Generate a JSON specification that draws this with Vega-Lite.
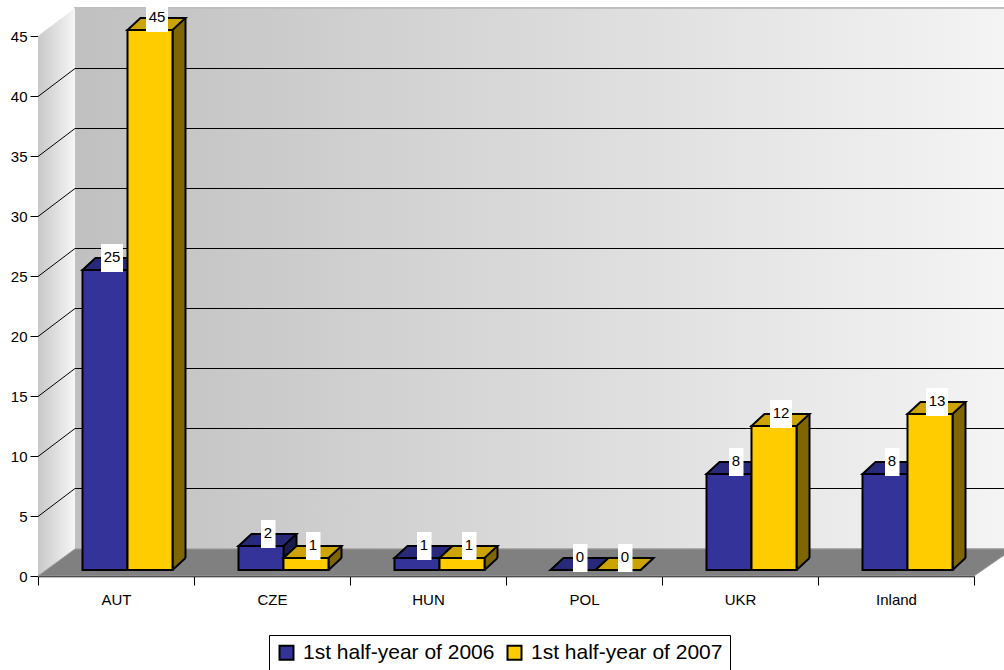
{
  "$schema": "https://vega.github.io/schema/vega-lite/v6.json",
  "width": 936,
  "height": 540,
  "autosize": "none",
  "padding": {"left": 38, "top": 36, "right": 30, "bottom": 94},
  "background": "white",
  "config": {
    "font": "Liberation Sans",
    "view": {"stroke": null},
    "axis": {"zindex": 1, "domainColor": "black", "tickColor": "black", "labelColor": "black", "labelFont": "Liberation Sans", "labelFontSize": 15, "grid": false, "title": null}
  },
  "datasets": {
    "bars": [
      {"country": "AUT", "series": "1st half-year of 2006", "value": 25},
      {"country": "CZE", "series": "1st half-year of 2006", "value": 2},
      {"country": "HUN", "series": "1st half-year of 2006", "value": 1},
      {"country": "POL", "series": "1st half-year of 2006", "value": 0},
      {"country": "UKR", "series": "1st half-year of 2006", "value": 8},
      {"country": "Inland", "series": "1st half-year of 2006", "value": 8},
      {"country": "AUT", "series": "1st half-year of 2007", "value": 45},
      {"country": "CZE", "series": "1st half-year of 2007", "value": 1},
      {"country": "HUN", "series": "1st half-year of 2007", "value": 1},
      {"country": "POL", "series": "1st half-year of 2007", "value": 0},
      {"country": "UKR", "series": "1st half-year of 2007", "value": 12},
      {"country": "Inland", "series": "1st half-year of 2007", "value": 13}
    ],
    "grid": [{"v": 5}, {"v": 10}, {"v": 15}, {"v": 20}, {"v": 25}, {"v": 30}, {"v": 35}, {"v": 40}],
    "one": [{}]
  },
  "data": {"name": "bars"},
  "encoding": {
    "x": {"field": "country", "type": "nominal", "sort": ["AUT", "CZE", "HUN", "POL", "UKR", "Inland"],
      "scale": {"paddingInner": 0, "paddingOuter": 0},
      "axis": {"tickBand": "extent", "labelAngle": 0, "tickSize": 9, "labelPadding": 7, "domainWidth": 1.5}},
    "y": {"type": "quantitative", "scale": {"domain": [0, 45], "nice": false},
      "axis": {"values": [0, 5, 10, 15, 20, 25, 30, 35, 40, 45], "tickSize": 8, "labelPadding": 3}}
  },
  "layer": [
    {
      "data": {"name": "one"},
      "mark": {"type": "rect", "xOffset": 37, "x2Offset": 70, "yOffset": -28, "y2Offset": -27,
        "fill": {"gradient": "linear", "x1": 0, "y1": 0, "x2": 1, "y2": 0, "stops": [{"offset": 0, "color": "#c0c0c0"}, {"offset": 1, "color": "#f6f6f6"}]},
        "stroke": "#c0c0c0", "strokeWidth": 2},
      "encoding": {"x": {"value": 0}, "x2": {"value": "width"}, "y": {"datum": 45}, "y2": {"datum": 0}}
    },
    {
      "data": {"name": "one"},
      "mark": {"type": "point", "shape": "M0,0L0,-540L37,-568L37,-27Z", "size": 4, "filled": true, "opacity": 1,
        "fill": {"gradient": "linear", "x1": 0, "y1": 0, "x2": 1, "y2": 0, "stops": [{"offset": 0, "color": "#c8c8c8"}, {"offset": 1, "color": "#f6f6f6"}]}},
      "encoding": {"x": {"value": 0}, "y": {"datum": 0}}
    },
    {
      "data": {"name": "grid"},
      "mark": {"type": "point", "shape": "M0,0.5L37,-27.5L975,-27.5", "size": 4, "filled": false, "opacity": 1, "stroke": "black", "strokeWidth": 1},
      "encoding": {"x": {"value": 0}, "y": {"field": "v", "type": "quantitative"}}
    },
    {
      "data": {"name": "one"},
      "mark": {"type": "point", "shape": "M0,0L37,-27L975,-27L936,0Z", "size": 4, "filled": true, "opacity": 1, "fill": "#808080", "stroke": "#9a9a9a", "strokeWidth": 1},
      "encoding": {"x": {"value": 0}, "y": {"datum": 0}}
    },

    {
      "transform": [{"filter": "datum.series === '1st half-year of 2006'"}],
      "mark": {"type": "bar", "width": 13, "xOffset": 18, "yOffset": -18, "y2Offset": -6, "fill": "#1a1a4d", "stroke": "black", "strokeWidth": 2},
      "encoding": {"y": {"field": "value"}, "y2": {"datum": 0}}
    },
    {
      "transform": [{"filter": "datum.series === '1st half-year of 2006'"}],
      "mark": {"type": "point", "shape": "M22.5,0L35.5,-12L38,-12L38,4L22.5,4Z", "size": 4, "filled": true, "opacity": 1, "fill": "#808080", "xOffset": -11, "yOffset": -6},
      "encoding": {"y": {"datum": 0}}
    },
    {
      "transform": [{"filter": "datum.series === '1st half-year of 2006'"}],
      "mark": {"type": "point", "shape": "M22.5,0L35.5,-12", "size": 4, "filled": false, "opacity": 1, "stroke": "black", "strokeWidth": 2, "xOffset": -11, "yOffset": -6},
      "encoding": {"y": {"datum": 0}}
    },
    {
      "transform": [{"filter": "datum.series === '1st half-year of 2006'"}],
      "mark": {"type": "bar", "width": 45, "xOffset": -11, "yOffset": -6, "y2Offset": -6, "stroke": "black", "strokeWidth": 2, "opacity": 1},
      "encoding": {"y": {"field": "value"}, "y2": {"datum": 0},
        "color": {"field": "series", "type": "nominal",
          "scale": {"domain": ["1st half-year of 2006", "1st half-year of 2007"], "range": ["#333399", "#ffcc00"]},
          "legend": {"orient": "none", "legendX": 231, "legendY": 599, "direction": "horizontal", "title": null,
            "fillColor": "white", "strokeColor": "black", "padding": 7,
            "symbolType": "square", "symbolSize": 196, "symbolStrokeColor": "black", "symbolStrokeWidth": 2,
            "labelFontSize": 21, "labelFont": "Liberation Sans", "labelColor": "black", "columnPadding": 8, "labelOffset": 6, "labelLimit": 400}}}
    },
    {
      "transform": [{"filter": "datum.series === '1st half-year of 2006'"}],
      "mark": {"type": "point", "shape": "M-22.5,0L-9.5,-12L35.5,-12L22.5,0Z", "size": 4, "filled": true, "opacity": 1, "fill": "#29297a", "stroke": "black", "strokeWidth": 2, "xOffset": -11, "yOffset": -6},
      "encoding": {"y": {"field": "value"}}
    },
    {
      "transform": [{"filter": "datum.series === '1st half-year of 2006'"}],
      "mark": {"type": "point", "size": 4, "filled": true, "opacity": 1, "fill": "white", "strokeWidth": 0, "xOffset": -11, "yOffset": -6},
      "encoding": {"y": {"field": "value"},
        "shape": {"condition": {"test": "datum.value >= 10", "value": "M-4,-26L18,-26L18,2L-4,2Z"}, "value": "M0,-26L14.5,-26L14.5,2L0,2Z"}}
    },
    {
      "transform": [{"filter": "datum.series === '1st half-year of 2006'"}],
      "mark": {"type": "text", "fontSize": 15, "font": "Liberation Sans", "color": "black", "align": "center", "baseline": "alphabetic", "xOffset": -4, "yOffset": -14},
      "encoding": {"y": {"field": "value"}, "text": {"field": "value"}}
    },

    {
      "transform": [{"filter": "datum.series === '1st half-year of 2007'"}],
      "mark": {"type": "bar", "width": 13, "xOffset": 63, "yOffset": -18, "y2Offset": -6, "fill": "#806600", "stroke": "black", "strokeWidth": 2},
      "encoding": {"y": {"field": "value"}, "y2": {"datum": 0}}
    },
    {
      "transform": [{"filter": "datum.series === '1st half-year of 2007'"}],
      "mark": {"type": "point", "shape": "M22.5,0L35.5,-12L38,-12L38,4L22.5,4Z", "size": 4, "filled": true, "opacity": 1, "fill": "#808080", "xOffset": 34, "yOffset": -6},
      "encoding": {"y": {"datum": 0}}
    },
    {
      "transform": [{"filter": "datum.series === '1st half-year of 2007'"}],
      "mark": {"type": "point", "shape": "M22.5,0L35.5,-12", "size": 4, "filled": false, "opacity": 1, "stroke": "black", "strokeWidth": 2, "xOffset": 34, "yOffset": -6},
      "encoding": {"y": {"datum": 0}}
    },
    {
      "transform": [{"filter": "datum.series === '1st half-year of 2007'"}],
      "mark": {"type": "bar", "width": 45, "xOffset": 34, "yOffset": -6, "y2Offset": -6, "stroke": "black", "strokeWidth": 2, "opacity": 1},
      "encoding": {"y": {"field": "value"}, "y2": {"datum": 0},
        "color": {"field": "series", "type": "nominal"}}
    },
    {
      "transform": [{"filter": "datum.series === '1st half-year of 2007'"}],
      "mark": {"type": "point", "shape": "M-22.5,0L-9.5,-12L35.5,-12L22.5,0Z", "size": 4, "filled": true, "opacity": 1, "fill": "#cca300", "stroke": "black", "strokeWidth": 2, "xOffset": 34, "yOffset": -6},
      "encoding": {"y": {"field": "value"}}
    },
    {
      "transform": [{"filter": "datum.series === '1st half-year of 2007'"}],
      "mark": {"type": "point", "size": 4, "filled": true, "opacity": 1, "fill": "white", "strokeWidth": 0, "xOffset": 34, "yOffset": -6},
      "encoding": {"y": {"field": "value"},
        "shape": {"condition": {"test": "datum.value >= 10", "value": "M-4,-26L18,-26L18,2L-4,2Z"}, "value": "M0,-26L14.5,-26L14.5,2L0,2Z"}}
    },
    {
      "transform": [{"filter": "datum.series === '1st half-year of 2007'"}],
      "mark": {"type": "text", "fontSize": 15, "font": "Liberation Sans", "color": "black", "align": "center", "baseline": "alphabetic", "xOffset": 41, "yOffset": -14},
      "encoding": {"y": {"field": "value"}, "text": {"field": "value"}}
    }
  ]
}
